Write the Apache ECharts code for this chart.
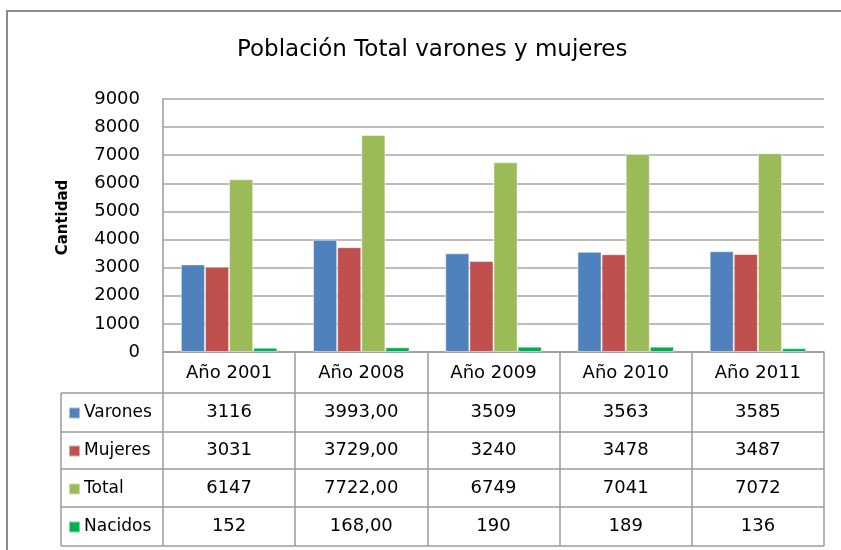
<!DOCTYPE html>
<html>
<head>
<meta charset="utf-8">
<script src="https://cdn.jsdelivr.net/npm/echarts@6/dist/echarts.min.js"></script>
<style>
    html, body { margin: 0; padding: 0; background: #fff; }
    #main { width: 841px; height: 550px; }
</style>
</head>
<body>
<div id="main"></div>
<script>
// datos de la tabla
var years = ['Año 2001', 'Año 2008', 'Año 2009', 'Año 2010', 'Año 2011'];
var decimals = [0, 2, 0, 0, 0];
var varones = [3116, 3993, 3509, 3563, 3585];
var mujeres = [3031, 3729, 3240, 3478, 3487];
var total = [6147, 7722, 6749, 7041, 7072];
var nacidos = [152, 168, 190, 189, 136];
var seriesNames = ['Varones', 'Mujeres', 'Total', 'Nacidos'];
var seriesData = [varones, mujeres, total, nacidos];
var colors = ['#4F81BD', '#C0504D', '#9BBB59', '#00B050'];
var yTicks = { min: 0, max: 9000, step: 1000 };

var font = 'DejaVu Sans';
var lineColor = '#9a9a9a';

// formato de la tabla (coma decimal)
var fmt = function(v, i) {
    return v.toFixed(decimals[i]).replace('.', ',');
};

// filas de la tabla: un eje de categorias por fila
var rowOffsets = [51, 89, 127, 165];
var xAxes = [{
    type: 'category',
    gridIndex: 0,
    data: years,
    axisLine: { show: true, lineStyle: { color: lineColor, width: 1.5 } },
    axisTick: { show: true, interval: 0, length: 194, lineStyle: { color: lineColor, width: 1.5 } },
    axisLabel: { interval: 0, margin: 12, color: '#000', fontFamily: font, fontSize: 18 }
}];
seriesData.forEach(function(arr, k) {
    xAxes.push({
        type: 'category',
        gridIndex: 0,
        position: 'bottom',
        offset: rowOffsets[k],
        data: arr.map(fmt),
        axisLine: { show: false },
        axisTick: { show: false },
        axisLabel: { interval: 0, margin: 0, color: '#000', fontFamily: font, fontSize: 18 }
    });
});

var series = seriesNames.map(function(name, k) {
    return {
        name: name,
        type: 'bar',
        xAxisIndex: 0,
        barGap: '0%',
        barCategoryGap: '27%',
        itemStyle: { color: colors[k], borderColor: 'rgba(255,255,255,0.5)', borderWidth: 1 },
        data: seriesData[k]
    };
});

// lineas horizontales de la tabla
var rowLines = [393, 432, 469, 507, 546];
var graphics = rowLines.map(function(y) {
    return {
        type: 'line',
        shape: { x1: 61, y1: y, x2: 824, y2: y },
        style: { stroke: lineColor, lineWidth: 1.5 }
    };
});
graphics.push({
    type: 'line',
    shape: { x1: 61, y1: 393, x2: 61, y2: 546 },
    style: { stroke: lineColor, lineWidth: 1.5 }
});
// borde del grafico
graphics.push({
    type: 'polyline',
    shape: { points: [[7, 560], [7, 11], [850, 11]] },
    style: { stroke: '#8c8c8c', lineWidth: 2, fill: null }
});

var option = {
    animation: false,
    backgroundColor: '#fff',
    title: {
        text: 'Población Total varones y mujeres',
        left: 232,
        top: 34,
        textStyle: { fontFamily: font, fontSize: 23, fontWeight: 'normal', color: '#000' }
    },
    legend: {
        orient: 'vertical',
        left: 68,
        top: 404,
        icon: 'rect',
        itemWidth: 11,
        itemHeight: 11,
        itemGap: 20,
        padding: 0,
        textStyle: { fontFamily: font, fontSize: 17, lineHeight: 18, color: '#000', padding: [0, 0, 0, -1] },
        data: seriesNames
    },
    grid: {
        left: 163,
        right: 17,
        top: 99,
        bottom: 198
    },
    xAxis: xAxes,
    yAxis: {
        type: 'value',
        min: yTicks.min,
        max: yTicks.max,
        interval: yTicks.step,
        name: 'Cantidad',
        nameLocation: 'middle',
        nameGap: 92,
        nameRotate: 90,
        nameTextStyle: { fontFamily: font, fontSize: 15, fontWeight: 'bold', color: '#000', padding: [0, 0, 0, 16] },
        axisLine: { show: true, lineStyle: { color: lineColor, width: 1.5 } },
        axisTick: { show: false },
        axisLabel: {
            margin: 23, color: '#000', fontFamily: font, fontSize: 18,
            formatter: function(v) { return String(v); }
        },
        splitLine: { lineStyle: { color: '#a6a6a6', width: 1.5 } }
    },
    graphic: graphics,
    series: series
};

echarts.init(document.getElementById('main')).setOption(option);
</script>
</body>
</html>
